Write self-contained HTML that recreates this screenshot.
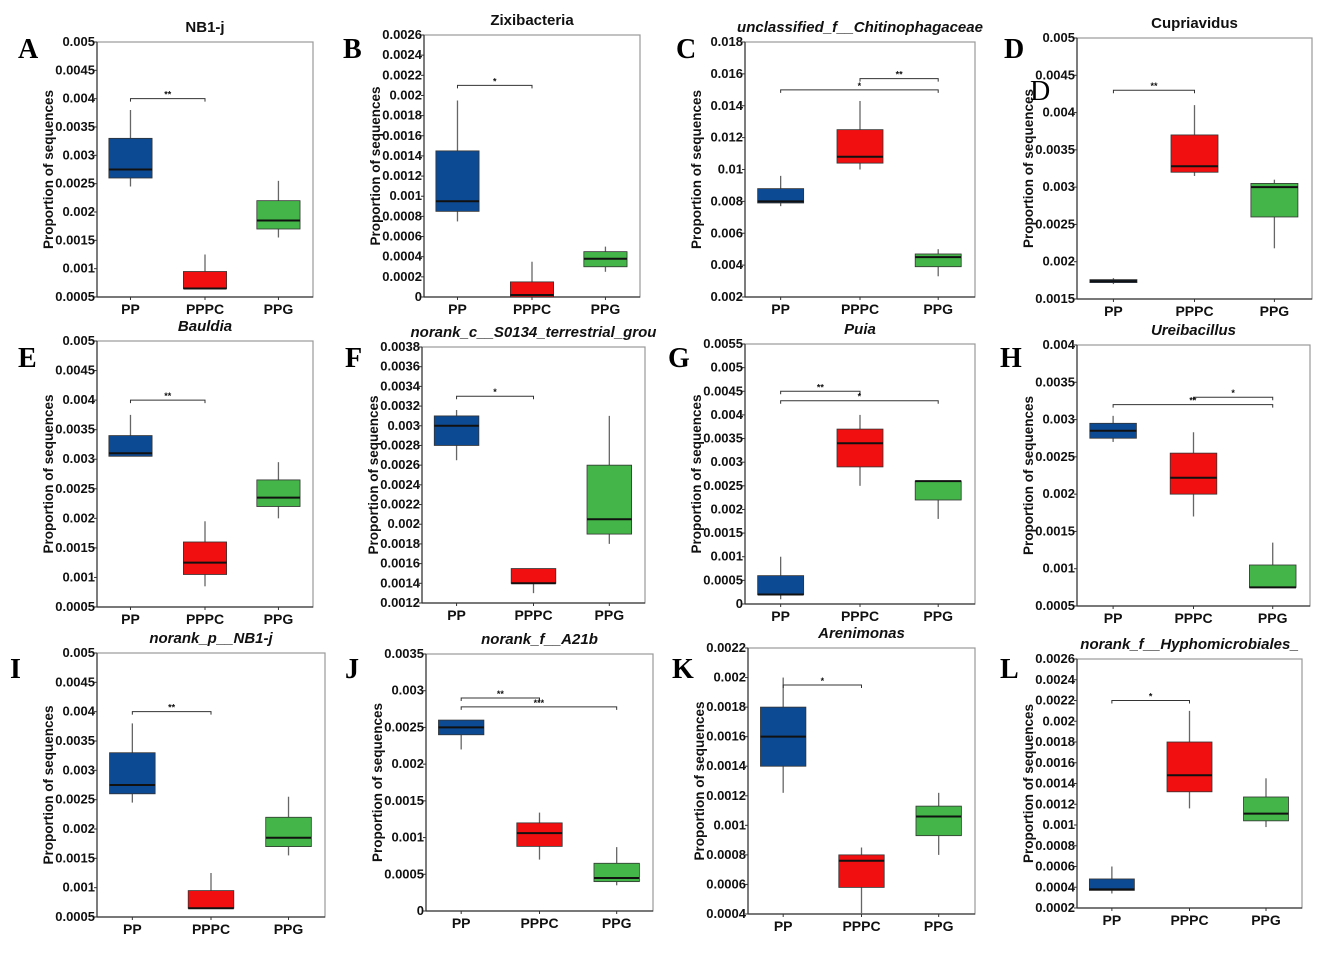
<!DOCTYPE html>
<html><head><meta charset="utf-8"><style>
body{margin:0;background:#fff}
svg{display:block;font-family:"Liberation Sans",Arial,sans-serif}
</style></head><body>
<svg id="fig" width="1325" height="953" viewBox="0 0 1325 953"></svg>
<script>
const groups = ["PP","PPPC","PPG"];
const colors = ["#0d4a94","#f20f10","#44b649"];
// each box: [whiskerLow, q1, median, q3, whiskerHigh]
const boxesA = [[0.00245,0.0026,0.00275,0.0033,0.0038],[0.00065,0.00065,0.00065,0.00095,0.00125],[0.00155,0.0017,0.00185,0.0022,0.00255]];
const boxesB = [[0.00075,0.00085,0.00095,0.00145,0.00195],[0,0,0.00002,0.00015,0.00035],[0.00025,0.0003,0.00038,0.00045,0.0005]];
const boxesC = [[0.0077,0.0079,0.008,0.0088,0.0096],[0.01,0.0104,0.0108,0.0125,0.0143],[0.0033,0.0039,0.0045,0.0047,0.005]];
const boxesD = [[0.0017,0.00172,0.00174,0.00176,0.00178],[0.00315,0.0032,0.00328,0.0037,0.0041],[0.00218,0.0026,0.003,0.00305,0.0031]];
const boxesE = [[0.00305,0.00305,0.0031,0.0034,0.00375],[0.00085,0.00105,0.00125,0.0016,0.00195],[0.002,0.0022,0.00235,0.00265,0.00295]];
const boxesF = [[0.00265,0.0028,0.003,0.0031,0.00316],[0.0013,0.0014,0.0014,0.00155,0.00155],[0.0018,0.0019,0.00205,0.0026,0.0031]];
const boxesG = [[0.0001,0.0002,0.0002,0.0006,0.001],[0.0025,0.0029,0.0034,0.0037,0.004],[0.0018,0.0022,0.0026,0.0026,0.0026]];
const boxesH = [[0.0027,0.00275,0.00285,0.00295,0.00305],[0.0017,0.002,0.00222,0.00255,0.00283],[0.00075,0.00075,0.00075,0.00105,0.00135]];
const boxesI = [[0.00245,0.0026,0.00275,0.0033,0.0038],[0.00065,0.00065,0.00065,0.00095,0.00125],[0.00155,0.0017,0.00185,0.0022,0.00255]];
const boxesJ = [[0.0022,0.0024,0.0025,0.0026,0.0026],[0.0007,0.00088,0.00106,0.0012,0.00134],[0.00035,0.0004,0.00045,0.00065,0.00087]];
const boxesK = [[0.00122,0.0014,0.0016,0.0018,0.002],[0.0004,0.00058,0.00076,0.0008,0.00085],[0.0008,0.00093,0.00106,0.00113,0.00122]];
const boxesL = [[0.00034,0.00037,0.00038,0.00048,0.0006],[0.00116,0.00132,0.00148,0.0018,0.0021],[0.00098,0.00104,0.00111,0.00127,0.00145]];
// significance brackets: [fromGroup, toGroup, value, label]
const sigA = [[0,1,0.004,"**"]];
const sigB = [[0,1,0.0021,"*"]];
const sigC = [[1,2,0.0157,"**"],[0,2,0.015,"*"]];
const sigD = [[0,1,0.0043,"**"]];
const sigE = [[0,1,0.004,"**"]];
const sigF = [[0,1,0.0033,"*"]];
const sigG = [[0,1,0.0045,"**"],[0,2,0.0043,"*"]];
const sigH = [[1,2,0.0033,"*"],[0,2,0.0032,"**"]];
const sigI = [[0,1,0.004,"**"]];
const sigJ = [[0,1,0.0029,"**"],[0,2,0.00278,"***"]];
const sigK = [[0,1,0.00195,"*"]];
const sigL = [[0,1,0.0022,"*"]];

const panels = [
 {L:"A",t:"NB1-j",it:false,f:[97,42,313,297],min:0.0005,max:0.005,step:0.0005,b:boxesA,s:sigA,lp:[18,58]},
 {L:"B",t:"Zixibacteria",it:false,f:[424,35,640,297],min:0,max:0.0026,step:0.0002,b:boxesB,s:sigB,lp:[343,58]},
 {L:"C",t:"unclassified_f__Chitinophagaceae",it:true,f:[745,42,975,297],min:0.002,max:0.018,step:0.002,b:boxesC,s:sigC,lp:[676,58]},
 {L:"D",t:"Cupriavidus",it:false,f:[1077,38,1312,299],min:0.0015,max:0.005,step:0.0005,b:boxesD,s:sigD,lp:[1004,58]},
 {L:"E",t:"Bauldia",it:true,f:[97,341,313,607],min:0.0005,max:0.005,step:0.0005,b:boxesE,s:sigE,lp:[18,367]},
 {L:"F",t:"norank_c__S0134_terrestrial_grou",it:true,f:[422,347,645,603],min:0.0012,max:0.0038,step:0.0002,b:boxesF,s:sigF,lp:[345,367]},
 {L:"G",t:"Puia",it:true,f:[745,344,975,604],min:0,max:0.0055,step:0.0005,b:boxesG,s:sigG,lp:[668,367]},
 {L:"H",t:"Ureibacillus",it:true,f:[1077,345,1310,606],min:0.0005,max:0.004,step:0.0005,b:boxesH,s:sigH,lp:[1000,367]},
 {L:"I",t:"norank_p__NB1-j",it:true,f:[97,653,325,917],min:0.0005,max:0.005,step:0.0005,b:boxesI,s:sigI,lp:[10,678]},
 {L:"J",t:"norank_f__A21b",it:true,f:[426,654,653,911],min:0,max:0.0035,step:0.0005,b:boxesJ,s:sigJ,lp:[345,678]},
 {L:"K",t:"Arenimonas",it:true,f:[748,648,975,914],min:0.0004,max:0.0022,step:0.0002,b:boxesK,s:sigK,lp:[672,678]},
 {L:"L",t:"norank_f__Hyphomicrobiales_",it:true,f:[1077,659,1302,908],min:0.0002,max:0.0026,step:0.0002,b:boxesL,s:sigL,lp:[1000,678]}
];
const NS="http://www.w3.org/2000/svg";
const svg=document.getElementById('fig');
function mk(tag,attrs,parent,txt){const e=document.createElementNS(NS,tag);for(const k in attrs)e.setAttribute(k,attrs[k]);if(txt!==undefined)e.textContent=txt;parent.appendChild(e);return e;}
panels.forEach(p=>{
 const g=mk('g',{},svg);
 
 
 const [x0,y0,x1,y1]=p.f, w=x1-x0;
 const y=v=>y1-(v-p.min)/(p.max-p.min)*(y1-y0);
 const xc=i=>x0+w*[0.155,0.5,0.84][i];
 const bw=w*0.2;
 const fr=mk('rect',{x:x0,y:y0,width:w,height:y1-y0,fill:'none',stroke:'#999','stroke-width':1.2},g);
 
 
 mk('line',{x1:x0,y1:y0,x2:x0,y2:y1,stroke:'#333','stroke-width':1.2},g);
 mk('line',{x1:x0,y1:y1,x2:x1,y2:y1,stroke:'#333','stroke-width':1.2},g);
 const n=Math.round((p.max-p.min)/p.step);
 for(let k=0;k<=n;k++){
  const v=p.min+k*p.step, yy=y(v);
  mk('line',{x1:x0-3,y1:yy,x2:x0,y2:yy,stroke:'#333'},g);
  const t=mk('text',{x:x0-2,y:yy+4,'text-anchor':'end','font-size':13,'font-weight':'bold',fill:'#111'},g,String(Number(v.toFixed(6))));
  
  
 }
 const yt=mk('text',{x:0,y:0,transform:`translate(${x0-44},${(y0+y1)/2}) rotate(-90)`,'text-anchor':'middle','font-size':13.5,'font-weight':'bold',fill:'#111'},g,'Proportion of sequences');
 
 
 const tt=mk('text',{x:x0+w/2,y:y0-10,'text-anchor':'middle','font-size':15,'font-weight':'bold','font-style':p.it?'italic':'normal',fill:'#111'},g,p.t);
 
 
 const lt=mk('text',{x:p.lp[0],y:p.lp[1],'font-family':'Liberation Serif,serif','font-size':28,'font-weight':'bold',fill:'#000'},g,p.L);
 
 
 groups.forEach((gn,i)=>{
  const d=p.b[i], cx=xc(i);
  mk('line',{x1:cx,y1:y(d[0]),x2:cx,y2:y(d[4]),stroke:'#666','stroke-width':1.3},g);
  const r=mk('rect',{x:cx-bw/2,y:y(d[3]),width:bw,height:Math.max(2,y(d[1])-y(d[3])),fill:colors[i],stroke:'#333','stroke-width':0.8},g);
  
  
  mk('line',{x1:cx-bw/2,y1:y(d[2]),x2:cx+bw/2,y2:y(d[2]),stroke:'#111','stroke-width':2},g);
  mk('line',{x1:cx,y1:y1,x2:cx,y2:y1+3,stroke:'#333'},g);
  const xl=mk('text',{x:cx,y:y1+17,'text-anchor':'middle','font-size':14,'font-weight':'bold',fill:'#111'},g,gn);
  
  
 });
 p.s.forEach(s=>{
  const a=xc(s[0]),b=xc(s[1]),yy=y(s[2]);
  const br=mk('path',{d:`M${a},${yy+3}V${yy}H${b}V${yy+3}`,fill:'none',stroke:'#333','stroke-width':1},g);
  
  
  mk('text',{x:(a+b)/2,y:yy-1,'text-anchor':'middle','font-size':9,'font-weight':'bold',fill:'#111'},g,s[3]);
 });
});
const dd=mk('text',{x:1030,y:100,'font-family':'Liberation Serif,serif','font-size':28,fill:'#000'},svg,'D');


</script>
</body></html>
